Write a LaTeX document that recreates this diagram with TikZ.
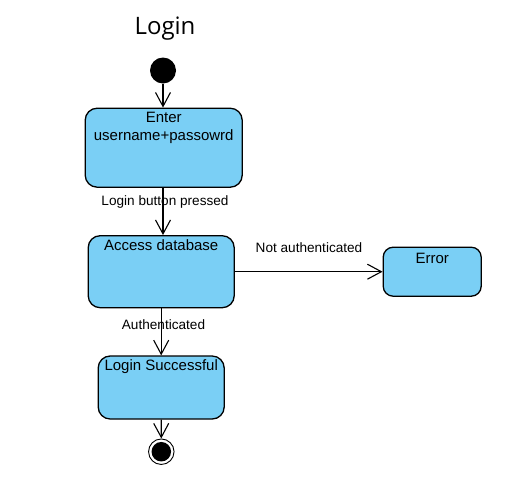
\documentclass[tikz,border=0pt]{standalone}
\usepackage{fontspec}
\setmainfont{Liberation Sans}
\newfontfamily\titlefont{Open Sans}
\usetikzlibrary{arrows.meta}
\definecolor{stfill}{RGB}{122,207,245}
\begin{document}
\begin{tikzpicture}[x=1pt,y=-1pt,
  statebox/.style={draw=black,line width=1.3pt,fill=stfill,rounded corners=12pt,inner sep=0pt},
  boxtext/.style={font=\fontsize{15}{17.5}\selectfont,inner sep=0pt,align=center},
  lbl/.style={font=\fontsize{13.6}{16}\selectfont,inner sep=0pt},
  arr/.style={line width=1.1pt,-{Straight Barb[length=14pt,width=15pt,line width=1.1pt]}}]
\useasboundingbox (0,0) rectangle (518,485);
\node[font=\titlefont\fontsize{24}{28}\selectfont,inner sep=0pt] (title) at (165,29) {Login};
\node[circle,fill=black,minimum size=26pt,inner sep=0pt] (init) at (163,70.5) {};
\node[statebox,minimum width=157pt,minimum height=79pt] (b1) at (163.7,147.7) {};
\node[boxtext] (b1t) at (163.7,128) {Enter\\username+passowrd};
\node[statebox,minimum width=146pt,minimum height=72pt] (b2) at (161.2,271.7) {};
\node[boxtext] (b2t) at (161.2,245.5) {Access database};
\node[statebox,rounded corners=10pt,minimum width=98pt,minimum height=49pt] (err) at (432.2,271.7) {};
\node[boxtext] (errt) at (432.2,258.5) {Error};
\node[statebox,minimum width=126pt,minimum height=63pt] (b3) at (161.2,387.5) {};
\node[boxtext] (b3t) at (161.2,366.5) {Login Successful};
\node[circle,draw=black,line width=0.9pt,fill=white,minimum size=25.5pt,inner sep=0pt] (fin) at (161.3,451.7) {};
\node[circle,fill=black,minimum size=19.5pt,inner sep=0pt] (finin) at (fin.center) {};
\draw[arr] (init) -- (init |- b1.north);
\draw[arr] (init |- b1.south) -- (init |- b2.north);
\draw[arr] (b2.east) -- (err.west);
\draw[arr] (b2.south) -- (b3.north);
\draw[arr] (b3.south) -- (fin.north);
\node[lbl] (l1) at (165,202) {Login button pressed};
\node[lbl] (l2) at (309,248) {Not authenticated};
\node[lbl] (l3) at (163.5,324.5) {Authenticated};
\end{tikzpicture}
\end{document}
